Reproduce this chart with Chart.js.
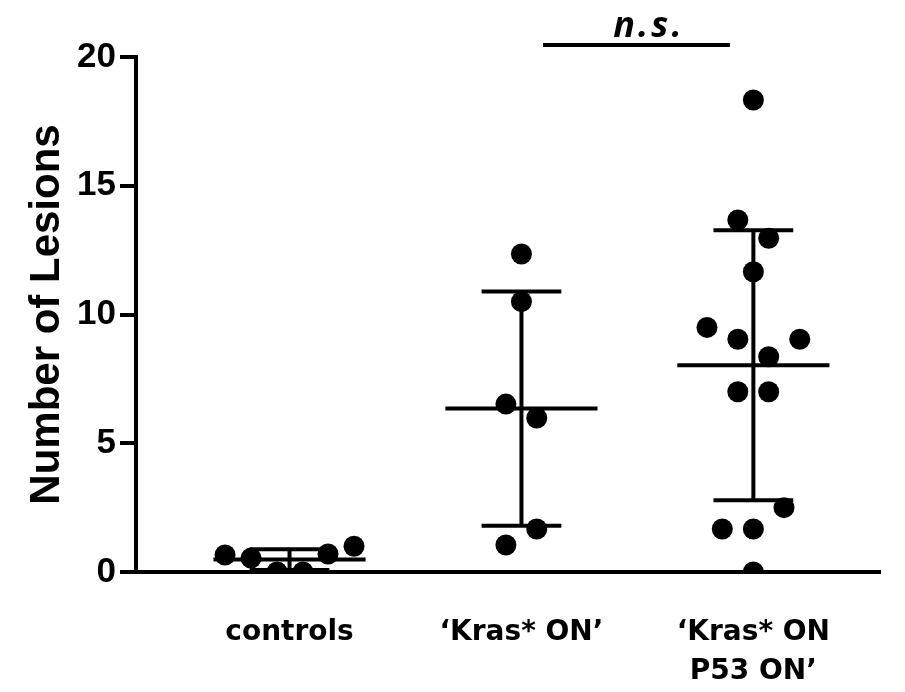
<!DOCTYPE html>
<html>
<head>
<meta charset="utf-8">
<script src="https://cdn.jsdelivr.net/npm/chart.js@4.4.1/dist/chart.umd.min.js"></script>
<style>
  html, body { margin: 0; padding: 0; background: #fff; }
  #wrap { width: 905px; height: 692px; }
</style>
</head>
<body>
<div id="wrap"><canvas id="c" width="905" height="692"></canvas></div>
<script>
// ---- data ----
const categories = [["controls"], ["\u2018Kras* ON\u2019"], ["\u2018Kras* ON", "P53 ON\u2019"]];
const controlsValues = [0.66, 0.54, 0, 0, 0.7, 1.0];
const controlsJitter = [-0.278, -0.166, -0.054, 0.058, 0.166, 0.278];
const krasValues = [12.35, 10.5, 6.52, 5.98, 1.67, 1.05];
const krasJitter = [0, 0, -0.067, 0.066, 0.066, -0.067];
const p53Values = [18.33, 13.67, 12.96, 11.66, 9.5, 9.04, 9.04, 8.36, 7.0, 7.0, 2.5, 1.67, 1.67, 0];
const p53Jitter = [0, -0.067, 0.066, 0, -0.2, -0.067, 0.2, 0.066, -0.067, 0.066, 0.132, -0.134, 0, 0];
const yTicks = [0, 5, 10, 15, 20];
const nsBracket = { from: 2, to: 3, label: "n.s." };

// ---- helpers ----
function mean(a) { return a.reduce((s, v) => s + v, 0) / a.length; }
function sd(a) { const m = mean(a); return Math.sqrt(a.reduce((s, v) => s + (v - m) * (v - m), 0) / (a.length - 1)); }

const groups = [
  { values: controlsValues, jitter: controlsJitter },
  { values: krasValues, jitter: krasJitter },
  { values: p53Values, jitter: p53Jitter }
];

const MEAN_HALF = 0.328, CAP_HALF = 0.172;
const datasets = [];
groups.forEach((g, i) => {
  const cx = i + 1;
  datasets.push({
    type: 'scatter',
    data: g.values.map((v, k) => ({ x: cx + g.jitter[k], y: v })),
    pointRadius: 10.5, pointHoverRadius: 10.5,
    backgroundColor: '#000', borderWidth: 0, order: 0
  });
});
groups.forEach((g, i) => {
  const cx = i + 1, m = mean(g.values), s = sd(g.values);
  const segs = [
    [{ x: cx - MEAN_HALF, y: m }, { x: cx + MEAN_HALF, y: m }],
    [{ x: cx - CAP_HALF, y: m + s }, { x: cx + CAP_HALF, y: m + s }],
    [{ x: cx - CAP_HALF, y: m - s }, { x: cx + CAP_HALF, y: m - s }],
    [{ x: cx, y: m - s }, { x: cx, y: m + s }]
  ];
  segs.forEach(seg => datasets.push({
    type: 'line', data: seg, borderColor: '#000', borderWidth: 4,
    pointRadius: 0, borderCapStyle: 'butt', fill: false, tension: 0, order: 1, clip: false
  }));
});
// n.s. bracket line above the highest groups
const nsY = 20.47;
datasets.push({
  type: 'line',
  data: [{ x: nsBracket.from + 0.093, y: nsY }, { x: nsBracket.to - 0.101, y: nsY }],
  borderColor: '#000', borderWidth: 4, pointRadius: 0, borderCapStyle: 'butt',
  fill: false, order: 1, clip: false
});

const nsPlugin = {
  id: 'nsLabel',
  afterDatasetsDraw(chart) {
    const { ctx, scales: { x, y } } = chart;
    const px = x.getPixelForValue((nsBracket.from + nsBracket.to) / 2 + 0.05);
    const py = y.getPixelForValue(nsY);
    ctx.save();
    ctx.fillStyle = '#000';
    ctx.font = 'italic bold 36px "Open Sans", "DejaVu Sans", sans-serif';
    try { ctx.letterSpacing = '3px'; } catch (e) {}
    ctx.textAlign = 'center';
    ctx.textBaseline = 'alphabetic';
    ctx.fillText(nsBracket.label, px, py - 8);
    ctx.restore();
  }
};

new Chart(document.getElementById('c'), {
  type: 'scatter',
  data: { datasets },
  options: {
    responsive: false,
    animation: false,
    events: [],
    layout: { padding: { top: 57, right: 25, left: 0, bottom: 0 } },
    plugins: { legend: { display: false }, tooltip: { enabled: false } },
    scales: {
      x: {
        type: 'linear', min: 0.338, max: 3.546,
        afterBuildTicks: (s) => { s.ticks = categories.map((c, i) => ({ value: i + 1 })); },
        afterFit: (s) => { s.height = 120; },
        grid: { display: false },
        border: { display: true, color: '#000', width: 4 },
        ticks: {
          autoSkip: false, maxRotation: 0, padding: 33,
          color: '#000',
          font: { family: '"Comic Sans MS", "DejaVu Sans", sans-serif', size: 28, weight: 'bold', lineHeight: 1.4 },
          callback: (v) => categories[Math.round(v) - 1]
        }
      },
      y: {
        type: 'linear', min: 0, max: 20,
        afterBuildTicks: (s) => { s.ticks = yTicks.map(v => ({ value: v })); },
        afterFit: (s) => { s.width = 136; },
        grid: { drawOnChartArea: false, color: '#000', lineWidth: 4, tickLength: 16, tickWidth: 4 },
        border: { display: true, color: '#000', width: 4 },
        ticks: {
          color: '#000', padding: 4,
          font: { family: '"Liberation Sans", Arial, sans-serif', size: 35, weight: 'bold' }
        },
        title: {
          display: true, text: 'Number of Lesions', color: '#000',
          font: { family: '"Liberation Sans", Arial, sans-serif', size: 42, weight: 'bold' },
          padding: { top: 22, bottom: 0 }
        }
      }
    }
  },
  plugins: [nsPlugin]
});
</script>
</body>
</html>
